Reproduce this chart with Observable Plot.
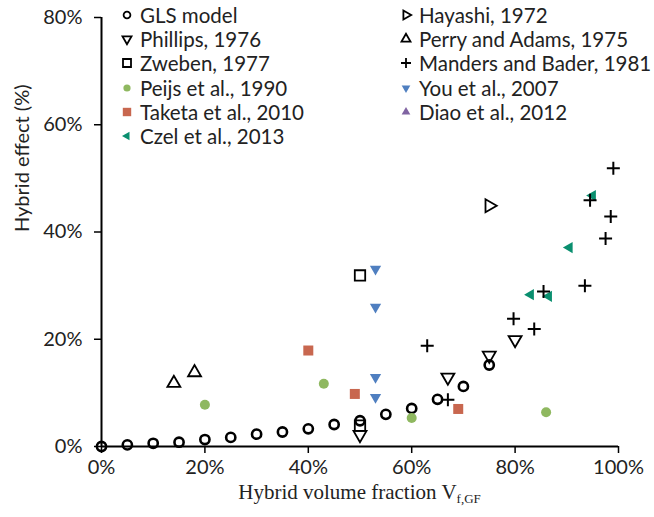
<!DOCTYPE html>
<html><head><meta charset="utf-8">
<script src="https://cdn.jsdelivr.net/npm/d3@7"></script>
<script src="https://cdn.jsdelivr.net/npm/@observablehq/plot@0.6"></script>
<style>
body{margin:0;background:#fff;}
#wrap{position:relative;width:654px;height:517px;}
.leg{position:absolute;font-family:Lato,sans-serif;font-size:20.5px;color:#222;line-height:24px;white-space:nowrap;}
.leg div{height:24.2px;display:flex;align-items:center;}
.leg svg{flex:none;margin-right:6px;}
.xlab{position:absolute;left:101px;width:517px;top:482px;text-align:center;font-family:"Liberation Serif",serif;font-size:21px;color:#222;line-height:21px;}
.xlab sub{font-size:13px;vertical-align:-4px;line-height:0;}
</style></head><body><div id="wrap"></div>
<script>
// ---- data ----
const xTicks = [0, 20, 40, 60, 80, 100];
const yTicks = [0, 20, 40, 60, 80];

const glsX = [0, 5, 10, 15, 20, 25, 30, 35, 40, 45, 50, 55, 60, 65, 70, 75];
const glsY = [0, 0.3, 0.6, 0.8, 1.3, 1.7, 2.3, 2.7, 3.3, 4.1, 4.8, 6.0, 7.1, 8.8, 11.2, 15.2];
const phillipsX = [50, 67, 75, 80];
const phillipsY = [2.2, 12.9, 17.0, 19.9];
const zwebenX = [50, 50];
const zwebenY = [31.9, 3.9];
const peijsX = [20, 43, 60, 86];
const peijsY = [7.8, 11.7, 5.3, 6.4];
const taketaX = [40, 49, 69];
const taketaY = [17.9, 9.8, 7.0];
const czelX = [95, 90.5, 83, 86.5];
const czelY = [46.8, 37.1, 28.3, 28.0];
const hayashiX = [75];
const hayashiY = [44.9];
const perryX = [14, 18];
const perryY = [11.8, 13.8];
const mandersX = [99, 94.5, 98.5, 97.5, 93.5, 85.5, 79.7, 83.7, 63, 67];
const mandersY = [51.9, 45.9, 42.9, 38.8, 30.0, 28.9, 23.8, 21.9, 18.8, 8.7];
const youX = [53, 53, 53, 53];
const youY = [33.1, 26.0, 12.9, 9.2];
const diaoX = [];
const diaoY = [];

// ---- symbols ----
function shape(kind) {
  return {draw(ctx, size) {
    const r = Math.sqrt(size / Math.PI), s = Math.sqrt(3) / 2;
    switch (kind) {
      case "circle": ctx.moveTo(r, 0); ctx.arc(0, 0, r, 0, 2 * Math.PI); break;
      case "square": ctx.moveTo(-r, -r); ctx.lineTo(r, -r); ctx.lineTo(r, r); ctx.lineTo(-r, r); ctx.closePath(); break;
      case "down": ctx.moveTo(0, r); ctx.lineTo(-r * s, -r / 2); ctx.lineTo(r * s, -r / 2); ctx.closePath(); break;
      case "up": ctx.moveTo(0, -r); ctx.lineTo(-r * s, r / 2); ctx.lineTo(r * s, r / 2); ctx.closePath(); break;
      case "right": ctx.moveTo(r, 0); ctx.lineTo(-r / 2, -r * s); ctx.lineTo(-r / 2, r * s); ctx.closePath(); break;
      case "left": ctx.moveTo(-r, 0); ctx.lineTo(r / 2, -r * s); ctx.lineTo(r / 2, r * s); ctx.closePath(); break;
      case "plus": ctx.moveTo(-r, 0); ctx.lineTo(r, 0); ctx.moveTo(0, -r); ctx.lineTo(0, r); break;
    }
  }};
}

const series = [
  {name: "GLS model", xs: glsX, ys: glsY, kind: "circle", r: 4.6, fill: "none", stroke: "#000", sw: 2.6, lr: 3.4, col: 0},
  {name: "Phillips, 1976", xs: phillipsX, ys: phillipsY, kind: "down", r: 7.5, fill: "none", stroke: "#000", sw: 1.8, lr: 5.2, col: 0},
  {name: "Zweben, 1977", xs: zwebenX, ys: zwebenY, kind: "square", r: 5.2, fill: "none", stroke: "#000", sw: 1.8, lr: 4, col: 0},
  {name: "Peijs et al., 1990", xs: peijsX, ys: peijsY, kind: "circle", r: 5, fill: "#8fb860", stroke: "none", sw: 0, lr: 3.6, col: 0},
  {name: "Taketa et al., 2010", xs: taketaX, ys: taketaY, kind: "square", r: 5, fill: "#c8674f", stroke: "none", sw: 0, lr: 4.2, col: 0},
  {name: "Czel et al., 2013", xs: czelX, ys: czelY, kind: "left", r: 6.5, fill: "#0a8f6f", stroke: "none", sw: 0, lr: 5, col: 0},
  {name: "Hayashi, 1972", xs: hayashiX, ys: hayashiY, kind: "right", r: 7.5, fill: "none", stroke: "#000", sw: 1.8, lr: 5.2, col: 1},
  {name: "Perry and Adams, 1975", xs: perryX, ys: perryY, kind: "up", r: 7.5, fill: "none", stroke: "#000", sw: 1.8, lr: 5.2, col: 1},
  {name: "Manders and Bader, 1981", xs: mandersX, ys: mandersY, kind: "plus", r: 6.5, fill: "none", stroke: "#000", sw: 2, lr: 5, col: 1},
  {name: "You et al., 2007", xs: youX, ys: youY, kind: "down", r: 6.5, fill: "#4f7fc0", stroke: "none", sw: 0, lr: 5, col: 1},
  {name: "Diao et al., 2012", xs: diaoX, ys: diaoY, kind: "up", r: 6.5, fill: "#8064a2", stroke: "none", sw: 0, lr: 5, col: 1}
];

const dotMarks = series.map(s => Plot.dot(s.xs.map((x, i) => ({x, y: s.ys[i]})), {
  x: "x", y: "y", r: s.r, symbol: shape(s.kind), fill: s.fill, stroke: s.stroke, strokeWidth: s.sw
}));

const chart = Plot.plot({
  width: 654, height: 517,
  marginLeft: 101, marginRight: 36, marginTop: 17, marginBottom: 71,
  style: {fontFamily: "Lato, sans-serif", fontSize: "20px", color: "#222", background: "white"},
  x: {domain: [0, 100]},
  y: {domain: [0, 80]},
  marks: [
    Plot.axisX({ticks: xTicks, tickFormat: d => d + "%", tickSize: 7, tickPadding: 6, label: null, stroke: "#000", strokeWidth: 1.5}),
    Plot.axisY({ticks: yTicks, tickFormat: d => d + "%", tickSize: 7, tickPadding: 12, label: null, stroke: "#000", strokeWidth: 1.5}),
    Plot.ruleY([0], {stroke: "#000", strokeWidth: 2}),
    Plot.ruleX([0], {stroke: "#000", strokeWidth: 2}),
    Plot.text(["Hybrid effect (%)"], {frameAnchor: "left", rotate: -90, dx: -79, fill: "#222", fontSize: 20}),
    ...dotMarks
  ]
});

const wrap = document.getElementById("wrap");
wrap.appendChild(chart);

// legend overlay
function legendCol(items, left, top) {
  const div = document.createElement("div");
  div.className = "leg";
  div.style.left = left + "px";
  div.style.top = top + "px";
  for (const s of items) {
    const row = document.createElement("div");
    const p = d3.path();
    shape(s.kind).draw(p, s.lr * s.lr * Math.PI);
    const svg = d3.create("svg").attr("width", 14).attr("height", 14).attr("viewBox", "-7 -7 14 14");
    svg.append("path").attr("d", p.toString())
      .attr("fill", s.fill).attr("stroke", s.stroke).attr("stroke-width", s.sw ? Math.min(s.sw, 1.8) : 0);
    row.appendChild(svg.node());
    const span = document.createElement("span");
    span.textContent = s.name;
    row.appendChild(span);
    div.appendChild(row);
  }
  wrap.appendChild(div);
}
legendCol(series.filter(s => s.col === 0), 120, 3);
legendCol(series.filter(s => s.col === 1), 399, 3);

const xl = document.createElement("div");
xl.className = "xlab";
xl.innerHTML = "Hybrid volume fraction V<sub>f,GF</sub>";
wrap.appendChild(xl);
</script>
</body></html>
